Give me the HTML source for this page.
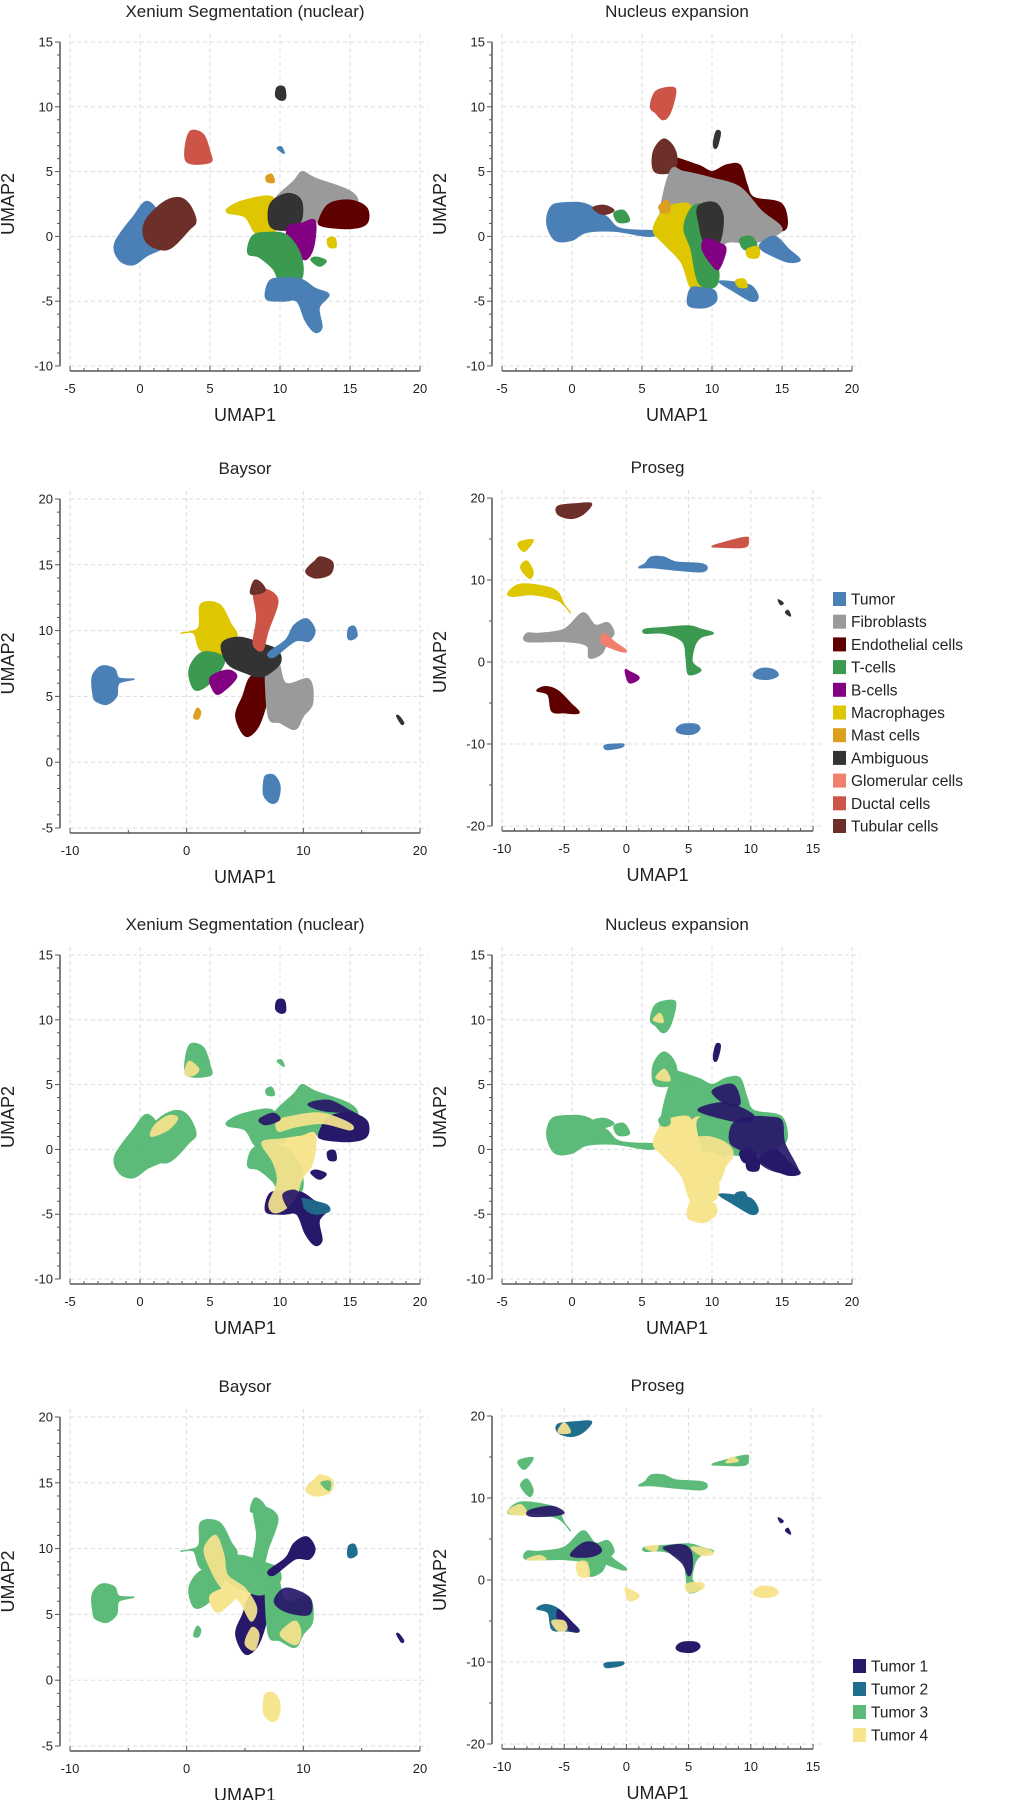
<!DOCTYPE html>
<html><head><meta charset="utf-8"><style>
html,body{margin:0;padding:0;background:#fff}
svg{display:block;font-family:"Liberation Sans",sans-serif}
</style></head><body>
<svg id="fig" width="1018" height="1800" viewBox="0 0 1018 1800" xmlns="http://www.w3.org/2000/svg"></svg>
<script>
// ---- data ----
const cellTypes = ["Tumor","Fibroblasts","Endothelial cells","T-cells","B-cells","Macrophages","Mast cells","Ambiguous","Glomerular cells","Ductal cells","Tubular cells"];
const cellColors = ["#4a80b6","#9a9a9a","#5e0000","#3b9a50","#820082","#dec600","#dba020","#333333","#f0806e","#cd5548","#6d2f29"];
const tumorTypes = ["Tumor 1","Tumor 2","Tumor 3","Tumor 4"];
const tumorColors = ["#28186a","#1f6e8e","#5cbb78","#f7e48e"];
const ticksXA = [-5,0,5,10,15,20], ticksYA = [-10,-5,0,5,10,15];
const ticksXB = [-10,0,10,20], ticksYB = [-5,0,5,10,15,20];
const ticksXP = [-10,-5,0,5,10,15], ticksYP = [-20,-10,0,10,20];

// shapes: [cellTypeIndex, tumorIndex, points]
const xeniumShapes = [
 [0,2,[[-1.8,-0.5],[-1.5,-1.8],[-0.5,-2.2],[0.5,-1.5],[2,-0.5],[1.5,1.5],[0.5,2.7],[-0.5,1.5]]],
 [10,2,[[0.5,-0.5],[2,-1],[3.5,0.5],[4,1.2],[3.5,2.5],[2.7,3],[1.5,2.5],[0.3,1]]],
 [9,2,[[3.3,5.8],[3.5,8],[4.5,7.9],[5,6.5],[5,5.7]]],
 [7,0,[[9.7,10.8],[9.8,11.5],[10.3,11.5],[10.4,10.7],[10.1,10.5]]],
 [0,2,[[9.8,6.8],[10.3,6.4],[10.1,6.9]]],
 [6,2,[[9,4.6],[9.4,4.8],[9.6,4.2],[9.1,4.2]]],
 [1,2,[[9.5,2.5],[11,4.3],[11.6,5],[12.5,4.5],[15,3.5],[15.5,2.5],[14,1.5],[11,1]]],
 [2,0,[[12.8,1.3],[13.5,2.5],[15,2.8],[16.2,2.2],[16.2,1],[15,0.6],[13,0.8]]],
 [5,2,[[6.3,2.2],[7.5,2.8],[9.5,3],[10,1],[9,0],[8.2,0.3],[7.5,1.5],[6.3,1.8]]],
 [7,2,[[9.3,2.5],[10.5,3.3],[11.5,2.8],[11.5,1.2],[10.5,0.5],[9.3,0.8]]],
 [4,3,[[10.6,0.8],[11.5,1],[12.5,1.2],[12.4,-0.8],[11.8,-1.8],[11,-1],[10.5,0]]],
 [3,2,[[7.7,-1.3],[8,0],[9,0.3],[10.5,0.1],[11.5,-1.5],[11.5,-3.3],[10,-3.3],[9.5,-2.5],[8.5,-1.6]]],
 [3,0,[[12.2,-1.8],[12.6,-1.6],[13.3,-1.9],[12.8,-2.3]]],
 [0,0,[[9.2,-3.5],[9,-4.8],[10.2,-5],[11.2,-5],[11.8,-6.5],[12.5,-7.4],[13,-7],[12.8,-5.5],[13.5,-4.5],[12.5,-4],[11.5,-3.3],[10,-3.2]]],
 [5,0,[[13.4,-0.2],[13.9,-0.1],[14,-0.8],[13.5,-0.8]]]
];
const xeniumTumorPatches = [
 [3,[[0.8,1],[2,1.5],[2.7,2.4],[2,2.6],[1,1.8]]],
 [3,[[3.2,5.8],[3.5,6.8],[4.2,6.2],[3.8,5.7]]],
 [3,[[9.8,2.2],[11,2.6],[13,2.8],[15,2],[15,1.5],[13,2],[11,1.7],[9.9,1.4]]],
 [0,[[12,3.5],[13.5,3.8],[15,3],[15.8,2.5],[14.8,2.8],[13,3]]],
 [3,[[8.7,0.5],[10,0.8],[12.3,0.9],[12.2,-1],[11.5,-2.5],[11.2,-3.5],[10.5,-4.5],[9.6,-4.9],[9.2,-4.2],[9.8,-2.5],[9.5,-1]]],
 [0,[[8.5,2.3],[9.5,2.8],[10,2.3],[9,1.9]]],
 [1,[[11.5,-3.8],[12.5,-4],[13.4,-4.3],[13.5,-4.8],[12.5,-5],[11.8,-4.6]]],
 [0,[[10.2,-3.5],[11.2,-3.2],[11.6,-4.5],[10.8,-4.8]]]
];
const nucleusShapes = [
 [9,2,[[5.6,10],[6,11.2],[7.2,11.5],[7.4,11],[7,9.5],[6.5,9],[6,9.5]]],
 [7,0,[[10.1,7.2],[10.3,8.1],[10.6,8],[10.4,7],[10.2,6.8]]],
 [2,2,[[7,6],[9,5.5],[10,5],[11,5.5],[12,5.5],[12.5,4],[13,3],[15,2.5],[15.2,0.5],[13,1],[10,3]]],
 [10,2,[[5.9,5],[5.8,6.5],[6.5,7.5],[7.2,7],[7.5,6],[7.2,5]]],
 [1,2,[[7,5],[8,5],[10,4.5],[12,3.8],[13.5,2],[15,0.5],[13,-0.5],[11,-0.5],[10.5,-2],[9,-4],[8.5,-2],[8,0],[6.3,1]]],
 [0,2,[[-1.8,1],[-1.5,2.3],[-0.5,2.6],[1,2.5],[2.5,1.5],[3.5,0.6],[6.3,0.4],[5.5,0],[3,0.4],[1,0.3],[0,-0.3],[-1.2,-0.3]]],
 [10,2,[[1.5,2.2],[2.3,2.4],[3,2],[2.2,1.7]]],
 [3,2,[[3,1.8],[3.7,2],[4.1,1.2],[3.3,1.1]]],
 [5,3,[[5.8,0.5],[6.5,2],[7.5,2.5],[8.5,2.3],[8.5,0],[9,-2.5],[9.5,-4],[8.5,-4],[7.8,-2],[6.5,-0.5]]],
 [6,2,[[6.2,2.3],[6.8,2.8],[7,2],[6.5,1.8]]],
 [3,3,[[8.3,1.8],[9,2.5],[10,2],[10,0],[10.5,-3],[10,-4],[9,-3.5],[8.5,-1],[8,0.5]]],
 [7,2,[[9,2.3],[10.2,2.6],[10.8,1.5],[10.5,-0.5],[9.5,-0.5],[9.1,0.8]]],
 [4,3,[[9.5,-0.2],[10.5,-0.5],[11,-1],[10.5,-2.5],[10,-2.2],[9.3,-1]]],
 [3,0,[[12,-0.2],[12.8,0],[13.2,-0.8],[12.3,-1]]],
 [5,0,[[12.5,-1],[13.3,-0.8],[13.3,-1.6],[12.6,-1.6]]],
 [0,0,[[13.5,-0.5],[14.5,0],[15.5,-1],[16.3,-1.8],[15.5,-2],[14.3,-1.5],[13.5,-1]]],
 [0,3,[[8.5,-4],[8.3,-5.3],[9.5,-5.5],[10.3,-5],[10.2,-4.2],[9.5,-4]]],
 [0,1,[[10.5,-3.5],[11.5,-4.2],[12.8,-5],[13.3,-4.7],[12.8,-3.8],[11.5,-3.5]]],
 [5,1,[[11.7,-3.4],[12.3,-3.3],[12.5,-3.9],[11.9,-3.9]]]
];
const nucleusTumorPatches = [
 [3,[[8,0.5],[9.5,1],[11,0.5],[11.5,-0.5],[10.5,-2],[10,-4],[9.8,-5.5],[8.5,-5.3],[8.6,-3],[8.2,-1]]],
 [0,[[11.5,2],[12.8,2.5],[14,2.5],[15,2.2],[15.2,0.5],[16.2,-1.7],[15.5,-1.9],[14,-1.5],[12.5,-0.3],[11.3,0.5]]],
 [0,[[9,3],[11,3.6],[13,2.6],[12,2.1]]],
 [0,[[10,4.5],[11.5,5],[12,3.5],[11,3.5]]],
 [3,[[5.8,10],[6.3,10.5],[6.5,9.8]]],
 [3,[[6,5.5],[6.6,6.2],[7,5.3]]]
];
const baysorShapes = [
 [0,2,[[-8,5],[-8.1,6.5],[-7.3,7.3],[-6.2,7.1],[-5.8,6.4],[-4.5,6.3],[-5.8,6],[-6,5],[-6.8,4.4],[-7.7,4.6]]],
 [6,2,[[0.6,3.4],[0.9,4.1],[1.2,3.8],[1,3.3]]],
 [5,2,[[-0.5,9.8],[1,10.2],[1.2,12],[2.8,12],[3.8,10.5],[4.3,9.5],[3,8],[1.2,8.5],[0.6,9.8]]],
 [3,2,[[0.2,7],[0.7,5.5],[2,6],[3.2,7.5],[2.8,8.2],[1.2,8.3]]],
 [4,3,[[2,6.4],[2.5,5.2],[3.3,5.5],[4.3,6.5],[3.5,7]]],
 [2,0,[[4.2,3.5],[5,2],[6,2.5],[6.7,4],[7,5.5],[6.8,6.5],[5.5,6.5],[4.8,5]]],
 [1,2,[[6.8,7.5],[7.8,7.8],[8.5,6],[10.5,6.3],[10.8,4.5],[10,3.5],[9.3,2.5],[8,3],[7,3.5]]],
 [7,2,[[3,9],[4.5,9.5],[6.5,9],[7.8,8.5],[8,7.5],[6.5,6.5],[5,6.8],[3.5,7.5]]],
 [9,2,[[5.7,9],[6,11],[5.7,13],[6.5,13.2],[7.5,12.8],[7.8,12],[7,10],[6.5,8.5]]],
 [10,2,[[5.5,12.8],[5.8,13.8],[6.4,13.6],[6.7,13]]],
 [0,0,[[7,8.3],[8.5,9.3],[9.2,10.4],[10.3,10.9],[11,10],[10.5,9.2],[9.3,9.2],[7.5,8]]],
 [0,1,[[13.8,9.5],[13.9,10.2],[14.4,10.3],[14.6,9.6],[14.1,9.3]]],
 [10,3,[[10.2,14.5],[11,15.3],[11.5,15.6],[12.5,15.2],[12.3,14.3],[11,14]]],
 [0,3,[[6.6,-1.5],[6.8,-1],[7.5,-1],[8,-1.8],[7.8,-2.9],[7.2,-3.1],[6.6,-2.5]]],
 [7,0,[[18,3.5],[18.2,3.5],[18.6,3],[18.4,2.9]]]
];
const baysorTumorPatches = [
 [3,[[1.5,10],[2.5,11],[3.2,9.5],[3.5,8],[5,7],[6,5.5],[5.5,4.5],[4.5,6],[3,7],[2,8.5]]],
 [0,[[7.5,6],[8.5,7],[10.5,6.3],[10.5,5],[8.5,5.2]]],
 [3,[[5,2.8],[5.6,4],[6.2,3.5],[5.8,2.3]]],
 [3,[[8,3.5],[9.3,4.5],[9.8,3.5],[9.3,2.7]]],
 [2,[[11.5,15],[12.3,15.1],[12.2,14.4]]]
];
const prosegShapes = [
 [10,1,[[-5.5,19],[-4,19.3],[-2.8,19.3],[-3.5,18],[-4.5,17.5],[-5.5,18]]],
 [9,2,[[7,14.2],[9.5,15.2],[9.8,14.8],[9.5,14],[7.5,14]]],
 [5,2,[[-8.7,14.5],[-7.5,14.9],[-8.2,13.5]]],
 [5,2,[[-8.5,11.5],[-8,12.3],[-7.5,11],[-7.8,10.2]]],
 [5,2,[[-9.5,8.5],[-8.5,9.5],[-6.5,9.2],[-5.5,8.5],[-5,7],[-4.5,6],[-5.5,7.5],[-7.5,8.2],[-9.2,8]]],
 [1,2,[[-8,3.5],[-7,3.5],[-5,4],[-3.5,6],[-2.5,4.5],[-1.5,4.8],[-1,3.5],[-1.5,2.5],[-2,1],[-3,0.5],[-3.2,2],[-5,2.5],[-8,2.5]]],
 [8,2,[[-1.8,3.5],[-1,2.5],[0,1.4],[-0.5,1.3],[-2,2.3]]],
 [0,2,[[1.5,12],[2,12.8],[3,12.8],[4,12.2],[6,12],[6.5,11.5],[6,11],[4,11.2],[2,11.5],[1,11.5]]],
 [3,2,[[1.5,4],[3,4.2],[5,4.4],[6,4],[7,3.5],[6,3],[5.5,2],[5.3,0],[6,-1],[5,-1.5],[4.8,0.5],[4.5,2.5],[3,3.5],[1.5,3.5]]],
 [4,3,[[-0.1,-1],[0.2,-2.5],[0.8,-2.3],[1,-1.8],[0.3,-1.2]]],
 [2,1,[[-7.2,-3.5],[-6.5,-3],[-5.5,-3.5],[-4.5,-5],[-3.8,-6.2],[-5,-6.2],[-6,-6],[-6.3,-4]]],
 [0,3,[[10.2,-1.5],[10.8,-0.8],[11.8,-0.9],[12.2,-1.6],[11.5,-2.1],[10.5,-2]]],
 [0,0,[[4,-8.2],[4.5,-7.6],[5.6,-7.6],[5.9,-8.2],[5.3,-8.8],[4.3,-8.7]]],
 [0,1,[[-1.8,-10.4],[-1.6,-10.1],[-0.3,-10],[-0.4,-10.4],[-1.5,-10.7]]],
 [7,0,[[12.2,7.6],[12.6,7.2],[12.4,7]]],
 [7,0,[[12.8,6],[13.2,5.6],[13,6.3]]]
];
const prosegTumorPatches = [
 [3,[[-5.5,18],[-5,19.2],[-4.5,18]]],
 [3,[[8,14.3],[8.5,15],[9,14.5]]],
 [3,[[-9.5,8.5],[-8.5,9.2],[-8,8],[-9.2,8]]],
 [0,[[-7.8,8.5],[-6,9],[-5,8.2],[-6,7.8],[-7.8,7.8]]],
 [0,[[-4.5,3],[-3.5,4.5],[-2.5,4.5],[-2,3.5],[-3,2.8]]],
 [3,[[-4,2],[-3.2,2.2],[-3,0.5],[-3.8,0.5]]],
 [3,[[-8,2.5],[-7,3],[-6.5,2.5]]],
 [0,[[3,4],[4.5,4.3],[5.2,3.5],[5.3,1.5],[5,0.5],[4.5,2],[3.5,3.3]]],
 [3,[[5.2,4],[6.5,3.8],[7,3.2],[6,3]]],
 [3,[[4.8,-0.5],[6,-0.3],[6.2,-1],[5,-1.5]]],
 [3,[[1.5,4],[2.5,4.2],[2.3,3.5]]],
 [0,[[-5.5,-3.6],[-4.8,-4.5],[-3.8,-6.2],[-4.5,-6.2],[-5.5,-5]]],
 [3,[[-6,-5],[-5.5,-6.2],[-4.8,-6],[-5,-5]]]
];

// ---- drawing ----
const NS="http://www.w3.org/2000/svg";
const svg=document.getElementById('fig');
function mk(tag,attrs,parent){const e=document.createElementNS(NS,tag);for(const k in attrs)e.setAttribute(k,attrs[k]);(parent||svg).appendChild(e);return e;}
function smooth(pts){
 const n=pts.length;let d="M"+pts[0][0].toFixed(1)+","+pts[0][1].toFixed(1);
 for(let i=0;i<n;i++){const p0=pts[(i-1+n)%n],p1=pts[i],p2=pts[(i+1)%n],p3=pts[(i+2)%n];
  const c1=[p1[0]+(p2[0]-p0[0])/6,p1[1]+(p2[1]-p0[1])/6],c2=[p2[0]-(p3[0]-p1[0])/6,p2[1]-(p3[1]-p1[1])/6];
  d+="C"+c1[0].toFixed(1)+","+c1[1].toFixed(1)+" "+c2[0].toFixed(1)+","+c2[1].toFixed(1)+" "+p2[0].toFixed(1)+","+p2[1].toFixed(1);}
 return d+"Z";}
function panel(cfg){
 const g=mk('g',{});
 
 
 const sx=v=>cfg.xr[0]+(v-cfg.xd[0])*(cfg.xr[1]-cfg.xr[0])/(cfg.xd[1]-cfg.xd[0]);
 const sy=v=>cfg.yr[0]+(v-cfg.yd[0])*(cfg.yr[1]-cfg.yr[0])/(cfg.yd[1]-cfg.yd[0]);
 const ax=cfg.xr[0]-10, ay=cfg.yr[0]+5;
 cfg.tx.forEach(t=>{const l=mk('line',{x1:sx(t),x2:sx(t),y1:cfg.yr[1]-8,y2:cfg.yr[0]+2,stroke:"#dddddd","stroke-dasharray":"4,3","stroke-width":1},g);
  });
 cfg.ty.forEach(t=>{const l=mk('line',{x1:cfg.xr[0],x2:cfg.xr[1]+8,y1:sy(t),y2:sy(t),stroke:"#dddddd","stroke-dasharray":"4,3","stroke-width":1},g);
  });
 const cg=mk('g',{},g);
 
 cfg.shapes.forEach(s=>{
  const col=cfg.tumor?tumorColors[s[1]]:cellColors[s[0]];
  const p=mk('path',{d:smooth(s[2].map(q=>[sx(q[0]),sy(q[1])])),fill:col,stroke:col,"stroke-width":1.2,"stroke-linejoin":"round"},cg);
  
  });
 if(cfg.tumor) cfg.patches.forEach(s=>{
  const col=tumorColors[s[0]];
  const p=mk('path',{d:smooth(s[1].map(q=>[sx(q[0]),sy(q[1])])),fill:col,stroke:col,"stroke-width":1,opacity:0.92},cg);
  
  });
 const ya=mk('line',{x1:ax,x2:ax,y1:cfg.yr[1],y2:cfg.yr[0],stroke:"#555","stroke-width":1.5},g);
 
 const xa=mk('line',{x1:cfg.xr[0],x2:cfg.xr[1],y1:ay,y2:ay,stroke:"#555","stroke-width":1.5},g);
 
 for(let v=cfg.yd[0];v<=cfg.yd[1]+1e-9;v+=cfg.my){const maj=cfg.ty.indexOf(Math.round(v*100)/100)>=0;
  mk('line',{x1:ax-(maj?5:3),x2:ax,y1:sy(v),y2:sy(v),stroke:"#555","stroke-width":1},g);}
 for(let v=cfg.xd[0];v<=cfg.xd[1]+1e-9;v+=cfg.mx){const maj=cfg.tx.indexOf(Math.round(v*100)/100)>=0;
  mk('line',{x1:sx(v),x2:sx(v),y1:ay,y2:ay-(maj?5:3),stroke:"#555","stroke-width":1},g);}
 cfg.ty.forEach(t=>{const e=mk('text',{x:ax-7,y:sy(t)+4.5,"text-anchor":"end","font-size":13,fill:"#222"},g);e.textContent=String(t);
  });
 cfg.tx.forEach(t=>{const e=mk('text',{x:sx(t),y:ay+22,"text-anchor":"middle","font-size":13,fill:"#222"},g);e.textContent=String(t);
  });
 const cx=(cfg.xr[0]+cfg.xr[1])/2, cy=(cfg.yr[0]+cfg.yr[1])/2;
 const xt=mk('text',{x:cx,y:ay+50,"text-anchor":"middle","font-size":18,fill:"#222"},g);xt.textContent="UMAP1";
 
 const yt=mk('text',{x:ax-46,y:cy,"text-anchor":"middle","font-size":18,fill:"#222",transform:`rotate(-90 ${ax-46} ${cy})`},g);yt.textContent="UMAP2";
 
 const tt=mk('text',{x:cx,y:cfg.yr[1]-25,"text-anchor":"middle","font-size":17,fill:"#222"},g);tt.textContent=cfg.title;
 
}
[false,true].forEach((tum,k)=>{
 const o1=k?913:0, o2=k?918:0;
 panel({name:(tum?'tumor-':'cell-')+'xenium-panel',title:"Xenium Segmentation (nuclear)",xd:[-5,20],xr:[70,420],yd:[-10,15],yr:[366+o1,42+o1],tx:ticksXA,ty:ticksYA,mx:1,my:1,shapes:xeniumShapes,patches:xeniumTumorPatches,tumor:tum});
 panel({name:(tum?'tumor-':'cell-')+'nucleus-panel',title:"Nucleus expansion",xd:[-5,20],xr:[502,852],yd:[-10,15],yr:[366+o1,42+o1],tx:ticksXA,ty:ticksYA,mx:1,my:1,shapes:nucleusShapes,patches:nucleusTumorPatches,tumor:tum});
 panel({name:(tum?'tumor-':'cell-')+'baysor-panel',title:"Baysor",xd:[-10,20],xr:[70,420],yd:[-5,20],yr:[828+o2,499+o2],tx:ticksXB,ty:ticksYB,mx:5,my:1,shapes:baysorShapes,patches:baysorTumorPatches,tumor:tum});
 panel({name:(tum?'tumor-':'cell-')+'proseg-panel',title:"Proseg",xd:[-10,15],xr:[502,813],yd:[-20,20],yr:[826+o2,498+o2],tx:ticksXP,ty:ticksYP,mx:1,my:5,shapes:prosegShapes,patches:prosegTumorPatches,tumor:tum});
});
function legend(names,cols,x,y0,dy,nm){
 const g=mk('g',{});
 names.forEach((n,i)=>{const y=y0+i*dy;
  const r=mk('rect',{x:x,y:y-7,width:13,height:14,fill:cols[i]},g);
  
  const t=mk('text',{x:x+18,y:y+5.5,"font-size":15.5,fill:"#222"},g);t.textContent=n;
  });
}
legend(cellTypes,cellColors,833,599,22.7,'cell-type-legend');
legend(tumorTypes,tumorColors,853,1666,23,'tumor-legend');
</script>
</body></html>
